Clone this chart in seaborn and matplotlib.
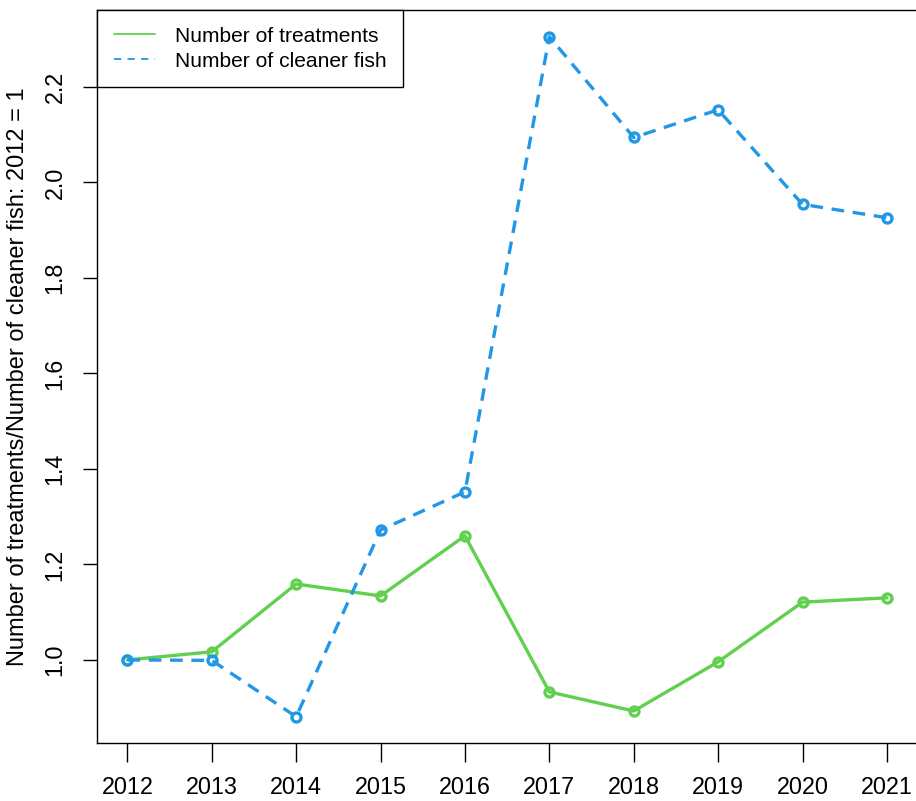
import matplotlib
matplotlib.use("Agg")
import matplotlib.pyplot as plt
from matplotlib.lines import Line2D
import seaborn as sns
import pandas as pd

years = [2012, 2013, 2014, 2015, 2016, 2017, 2018, 2019, 2020, 2021]
treatments = [1.000, 1.017, 1.159, 1.134, 1.260, 0.933, 0.893, 0.996, 1.121, 1.130]
cleaner_fish = [1.000, 0.999, 0.881, 1.272, 1.352, 2.305, 2.094, 2.152, 1.954, 1.926]
y_ticks = [1.0, 1.2, 1.4, 1.6, 1.8, 2.0, 2.2]

GREEN = "#61D04F"
BLUE = "#2297E6"
DASH = (0, (3.8, 2.6))

sns.set_style("ticks")
plt.rcParams["font.family"] = ["Liberation Sans", "DejaVu Sans"]
plt.rcParams["text.color"] = "black"
plt.rcParams["axes.labelcolor"] = "black"
plt.rcParams["xtick.color"] = "black"
plt.rcParams["ytick.color"] = "black"

W, H = 916, 801
fig = plt.figure(figsize=(W / 100, H / 100), dpi=100)
# plot box in pixel coordinates: left 97, right ~917, top 10, bottom 743
AX_W = 917.3 - 97
ax = fig.add_axes([97 / W, (H - 743) / H, AX_W / W, (743 - 10) / H])

df = pd.DataFrame({"year": years, "treatments": treatments, "cleaner": cleaner_fish})

sns.lineplot(data=df, x="year", y="treatments", ax=ax, color=GREEN, lw=2.4,
             marker="o", markersize=6.5, markeredgewidth=2.4,
             markerfacecolor="none", markeredgecolor=GREEN)
sns.lineplot(data=df, x="year", y="cleaner", ax=ax, color=BLUE, lw=2.4,
             linestyle=DASH, marker="o", markersize=6.5,
             markeredgewidth=2.4, markerfacecolor="none", markeredgecolor=BLUE)

ax.set_xlim(2011.64, 2021.36)
ax.set_ylim(0.826, 2.361)
ax.set_xticks(years)
ax.set_xticklabels([str(y) for y in years], fontsize=16.8, color="black")
ax.set_yticks(y_ticks)
ax.set_yticklabels([f"{v:.1f}" for v in y_ticks], fontsize=16.8, rotation=90,
                   va="center", color="black")
ax.tick_params(axis="x", length=14, width=1, color="black", pad=10)
ax.tick_params(axis="y", length=10, width=1, color="black", pad=12)
for s in ax.spines.values():
    s.set_color("black")
    s.set_linewidth(1.0)

ax.set_xlabel("")
ax.set_ylabel("Number of treatments/Number of cleaner fish: 2012 = 1",
              fontsize=17.0, color="black")
ax.yaxis.set_label_coords((29 - 97) / AX_W, 0.5)

handles = [
    Line2D([], [], color=GREEN, lw=1.3),
    Line2D([], [], color=BLUE, lw=1.3, linestyle=(0, (4, 3.5))),
]
leg = ax.legend(handles, ["Number of treatments", "Number of cleaner fish"],
                loc="upper left", borderaxespad=0, fancybox=False,
                edgecolor="black", framealpha=1, fontsize=15.1,
                handlelength=1.95, handletextpad=0.95, borderpad=0.8,
                labelspacing=0.28)
leg.get_frame().set_linewidth(1.0)
for t in leg.get_texts():
    t.set_color("black")

fig.savefig("out.png", dpi=100)
